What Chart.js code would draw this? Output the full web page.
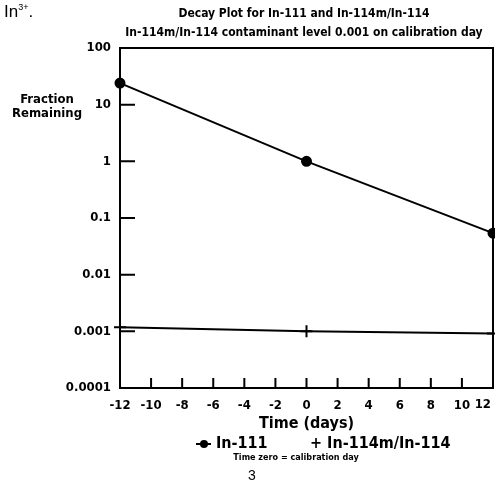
<!DOCTYPE html>
<html>
<head>
<meta charset="utf-8">
<script src="https://cdn.jsdelivr.net/npm/chart.js@4"></script>
<style>
  html, body { margin: 0; padding: 0; background: #fff; }
  #wrap { position: relative; width: 495px; height: 495px; overflow: hidden;
          font-family: 'DejaVu Sans Condensed', 'DejaVu Sans', sans-serif; font-stretch: condensed;
          font-weight: bold; color: #000; }
  #wrap canvas { position: absolute; left: 0; top: 0; }
  .txt { position: absolute; white-space: nowrap; }
</style>
</head>
<body>
<div id="wrap">
  <canvas id="decayChart" width="495" height="495"></canvas>

  <!-- page text around the chart -->
  <div class="txt" style="left: 4px; top: 2px; font-size: 17px; font-weight: normal; font-family: 'Liberation Sans', sans-serif;">In<sup style="font-size: 9px;">3+</sup>.</div>
  <div class="txt" style="left: 304px; top: 6px; transform: translateX(-50%); font-size: 12px;">Decay Plot for In-111 and In-114m/In-114</div>
  <div class="txt" style="left: 304px; top: 25px; transform: translateX(-50%); font-size: 12px;">In-114m/In-114 contaminant level 0.001 on calibration day</div>
  <div class="txt" style="left: 47px; top: 92px; transform: translateX(-50%); font-size: 13px; text-align: center; line-height: 14px;">Fraction<br>Remaining</div>

  <!-- legend -->
  <div class="txt" style="left: 196px; top: 433px; font-size: 16px;">
    <span style="position: relative; display: inline-block; width: 15px; height: 10px; vertical-align: middle;">
      <span style="position: absolute; left: 0; top: 4px; width: 15px; height: 2px; background: #000;"></span>
      <span style="position: absolute; left: 4px; top: 1px; width: 8px; height: 8px; border-radius: 50%; background: #000;"></span>
    </span>
    In-111
  </div>
  <div class="txt" style="left: 310px; top: 433px; font-size: 16px;">+ In-114m/In-114</div>
  <div class="txt" style="left: 296px; top: 452px; transform: translateX(-50%); font-size: 9px;">Time zero = calibration day</div>
  <div class="txt" style="left: 252px; top: 467px; transform: translateX(-50%); font-size: 14px; font-weight: normal; font-family: 'Liberation Sans', sans-serif;">3</div>
</div>

<script>
// ---- data ----
const days = [-12, 0, 12];
const in111 = [24, 1, 0.054];
const in114m = [0.00118, 0.001, 0.00092];

const xTicks = [-12, -10, -8, -6, -4, -2, 0, 2, 4, 6, 8, 10, 12];
const yTicks = [0.0001, 0.001, 0.01, 0.1, 1, 10, 100];
const yTickLabels = ['0.0001', '0.001', '0.01', '0.1', '1', '10', '100'];

const FONT = "'DejaVu Sans Condensed', 'DejaVu Sans', sans-serif";
const lastX = xTicks[xTicks.length - 1];

Chart.defaults.color = '#000';
Chart.defaults.font.family = FONT;

// box around the plot + inward tick marks
const frameTicks = {
  id: 'frameTicks',
  afterDraw(chart) {
    const { ctx, chartArea: a, scales: { x, y } } = chart;
    ctx.save();
    ctx.strokeStyle = '#000';
    ctx.lineWidth = 2;
    ctx.strokeRect(a.left, a.top, a.right - a.left, a.bottom - a.top);

    ctx.beginPath();
    yTicks.forEach(v => {
      if (v === yTicks[0] || v === yTicks[yTicks.length - 1]) return;
      const py = y.getPixelForValue(v);
      ctx.moveTo(a.left, py);
      ctx.lineTo(a.left + 15, py);
    });
    xTicks.forEach(v => {
      if (v === xTicks[0] || v === lastX) return;
      const px = x.getPixelForValue(v);
      ctx.moveTo(px, a.bottom);
      ctx.lineTo(px, a.bottom - 10);
    });
    ctx.stroke();

    // last x label would be cut by the page edge, keep it inside
    ctx.fillStyle = '#000';
    ctx.font = 'bold 13px ' + FONT;
    ctx.textAlign = 'right';
    ctx.textBaseline = 'top';
    ctx.fillText(String(lastX), x.getPixelForValue(lastX) - 2, a.bottom + 10);
    ctx.restore();
  }
};

new Chart(document.getElementById('decayChart'), {
  type: 'line',
  data: {
    datasets: [
      {
        label: 'In-111',
        data: days.map((d, i) => ({ x: d, y: in111[i] })),
        borderColor: '#000',
        backgroundColor: '#000',
        borderWidth: 2,
        pointRadius: 4.5,
        pointStyle: 'circle',
        tension: 0
      },
      {
        label: 'In-114m/In-114',
        data: days.map((d, i) => ({ x: d, y: in114m[i] })),
        borderColor: '#000',
        backgroundColor: '#000',
        borderWidth: 2,
        pointRadius: 6,
        pointBorderWidth: 2,
        pointStyle: 'cross',
        tension: 0
      }
    ]
  },
  options: {
    responsive: false,
    animation: false,
    clip: false,
    layout: { autoPadding: false, padding: { left: 0, right: 2, top: 48, bottom: 62 } },
    plugins: {
      legend: { display: false },
      tooltip: { enabled: false }
    },
    scales: {
      x: {
        type: 'linear',
        min: -12,
        max: 12,
        afterFit: s => { s.height = 45; s.paddingLeft = 0; s.paddingRight = 0; },
        afterBuildTicks: s => { s.ticks = xTicks.map(v => ({ value: v })); },
        grid: { display: false, drawTicks: false },
        border: { display: false },
        ticks: {
          padding: 10,
          font: { family: FONT, size: 13, weight: 'bold' },
          color: '#000',
          maxRotation: 0,
          autoSkip: false,
          callback: v => (v === lastX ? '' : String(v))
        },
        title: {
          display: true,
          text: 'Time (days)',
          font: { family: FONT, size: 16, weight: 'bold' },
          color: '#000',
          padding: { top: 0, bottom: 0 }
        }
      },
      y: {
        type: 'logarithmic',
        min: 0.0001,
        max: 100,
        afterFit: s => { s.width = 120; s.paddingTop = 0; s.paddingBottom = 0; },
        afterBuildTicks: s => { s.ticks = yTicks.map(v => ({ value: v })); },
        grid: { display: false, drawTicks: false },
        border: { display: false },
        ticks: {
          padding: 9,
          font: { family: FONT, size: 13, weight: 'bold' },
          color: '#000',
          autoSkip: false,
          callback: (v) => {
            const i = yTicks.findIndex(t => Math.abs(t - v) / t < 1e-6);
            return i >= 0 ? yTickLabels[i] : '';
          }
        }
      }
    }
  },
  plugins: [frameTicks]
});
</script>
</body>
</html>
